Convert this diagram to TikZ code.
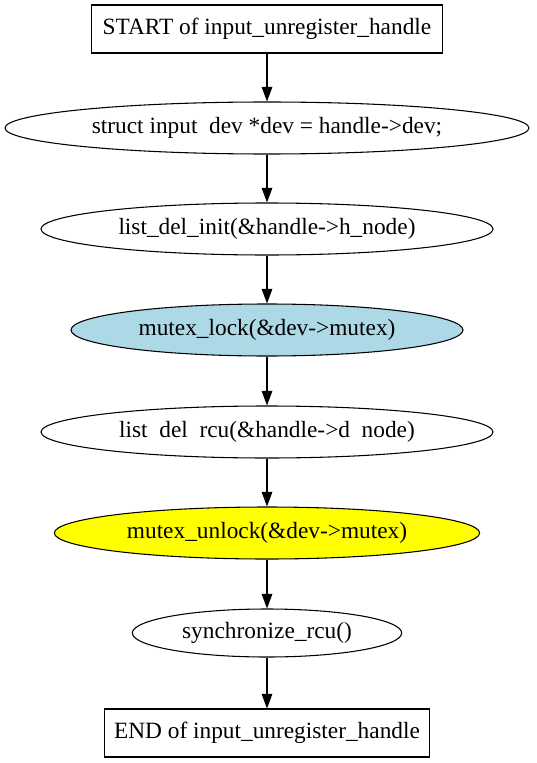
\documentclass[tikz,border=0pt]{standalone}
\usepackage{fontspec}
\setmainfont{Liberation Serif}
\usetikzlibrary{shapes.geometric,arrows.meta}
\definecolor{lockblue}{RGB}{173,216,230}
\definecolor{unlockyellow}{RGB}{255,255,0}

\begin{document}
\begin{tikzpicture}[x=0.75pt, y=-0.75pt,
    every node/.style={font=\fontsize{17.5}{20}\selectfont, inner sep=0pt},
    termbox/.style={draw, line width=0.8pt, rectangle, minimum height=36pt},
    stepoval/.style={draw, line width=0.8pt, ellipse, minimum height=39pt},
    flow/.style={line width=0.9pt, -{Triangle[length=11pt, width=8pt]}}]
  \useasboundingbox (0,0) rectangle (536,763);

  % Terminal boxes
  \node[termbox, minimum width=263pt] (start) at (267, 29) {START of input\_unregister\_handle};
  \node[termbox, minimum width=244pt] (stop) at (267, 733) {END of input\_unregister\_handle};

  % Statements
  \node[stepoval, minimum width=393pt] (decl) at (267, 128) {struct input\phantom{\_}dev *dev = handle->dev;};
  \node[stepoval, minimum width=339pt] (delinit) at (267, 229) {list\_del\_init(\&handle->h\_node)};
  \node[stepoval, minimum width=294pt, fill=lockblue] (lock) at (267, 330) {mutex\_lock(\&dev->mutex)};
  \node[stepoval, minimum width=339pt] (delrcu) at (267, 432) {list\phantom{\_}del\phantom{\_}rcu(\&handle->d\phantom{\_}node)};
  \node[stepoval, minimum width=319pt, fill=unlockyellow] (unlock) at (267, 533) {mutex\_unlock(\&dev->mutex)};
  \node[stepoval, minimum width=202pt, minimum height=36pt] (sync) at (267, 633) {synchronize\_rcu()};

  % Control flow
  \foreach \a/\b in {start/decl, decl/delinit, delinit/lock, lock/delrcu,
                     delrcu/unlock, unlock/sync, sync/stop} {
    \draw[flow] (\a) -- (\b);
  }
\end{tikzpicture}
\end{document}
